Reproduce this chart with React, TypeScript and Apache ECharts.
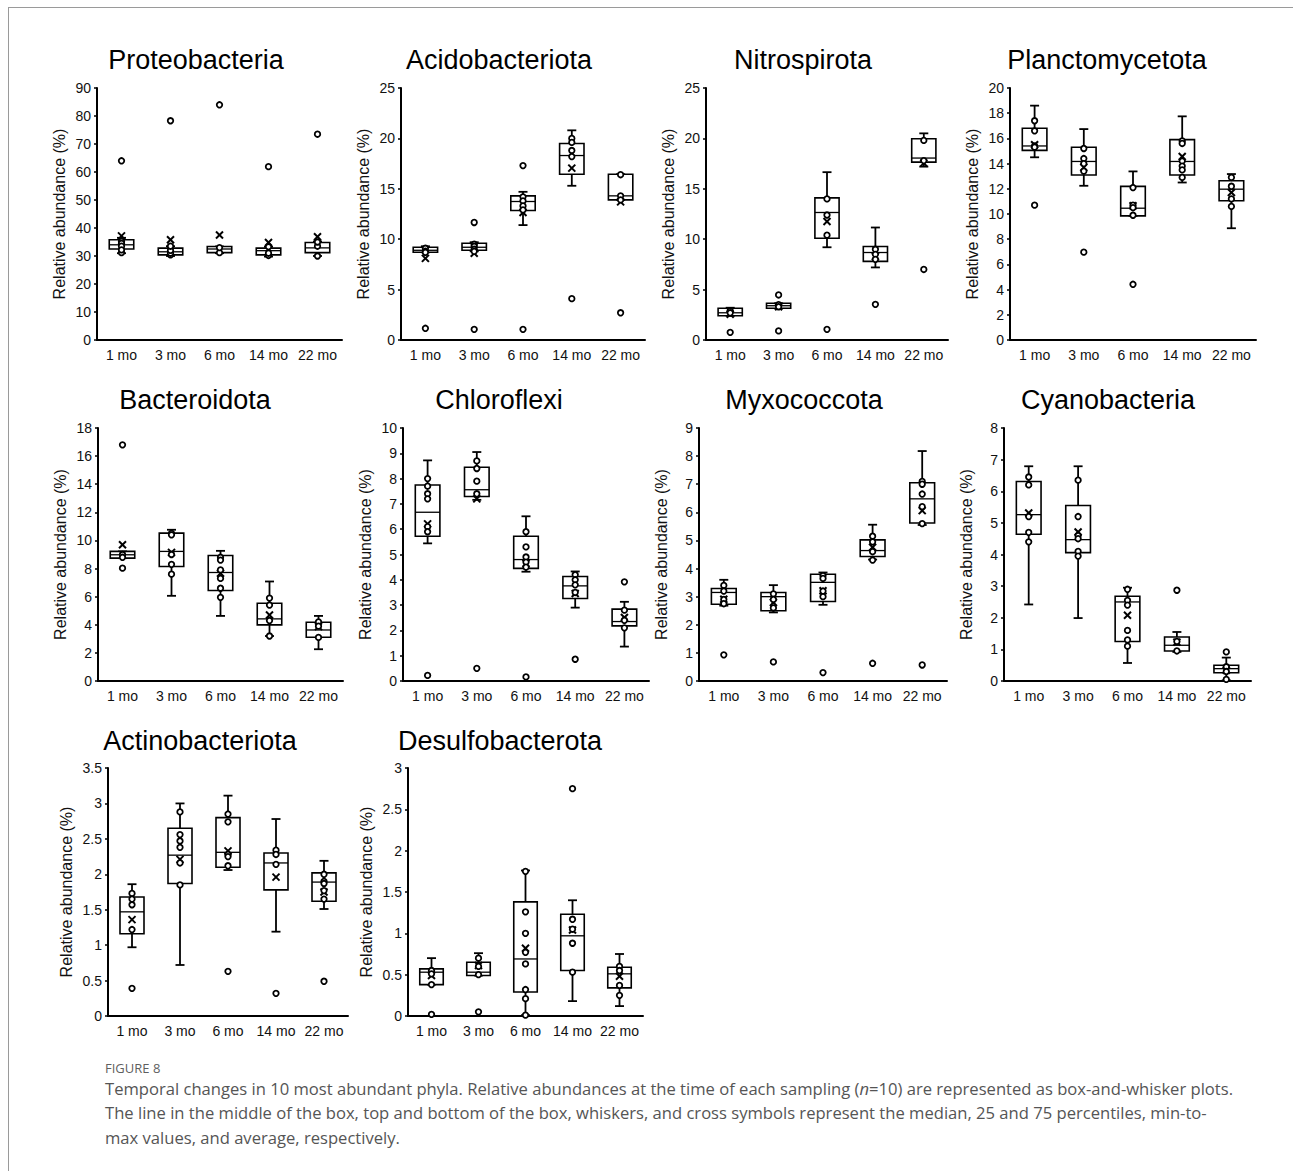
import React, { useEffect, useRef } from "react";
import * as echarts from "echarts";

const categories = ["1 mo", "3 mo", "6 mo", "14 mo", "22 mo"];
const phyla = [
  "Proteobacteria", "Acidobacteriota", "Nitrospirota", "Planctomycetota",
  "Bacteroidota", "Chloroflexi", "Myxococcota", "Cyanobacteria",
  "Actinobacteriota", "Desulfobacterota",
];
const yMaxes = [90, 25, 25, 20, 18, 10, 9, 8, 3.5, 3];
const ySteps = [10, 5, 5, 2, 2, 1, 1, 1, 0.5, 0.5];

// box stats per group: [min, q1, median, q3, max]
const proteobacteriaBox = [[31, 32.5, 34, 35.8, 36.5], [30, 30.4, 31.5, 32.8, 33.5], [31, 31.2, 32.5, 33.4, 33.4], [29.8, 30.4, 31.9, 32.8, 33.3], [30, 31.2, 32.9, 34.8, 35.2]];
const proteobacteriaMean = [37.2, 35.8, 37.5, 34.8, 36.9];
const proteobacteriaPoints = [[64, 35.2, 34.5, 33.5, 31.2, 32.2], [78.3, 30.4, 31, 32, 33.5], [84, 31.2, 33], [61.9, 30.2, 31, 33.3], [73.5, 30, 33.5, 35]];

const acidobacteriotaBox = [[8.7, 8.7, 8.9, 9.2, 9.3], [8.8, 8.9, 9.2, 9.6, 9.7], [11.4, 12.85, 13.74, 14.3, 14.7], [15.3, 16.45, 18.3, 19.5, 20.8], [13.9, 13.9, 14.3, 16.45, 16.45]];
const acidobacteriotaMean = [8.1, 8.6, 12.65, 17.05, 13.7];
const acidobacteriotaPoints = [[1.16, 9.1, 8.8, 8.7], [11.66, 1.06, 9.5, 9.3, 9.0, 8.8], [17.3, 1.06, 14.2, 13.8, 13.3, 12.9], [4.1, 20.0, 19.6, 18.8, 18.2], [2.7, 16.4, 14.3, 13.9]];

const nitrospirotaBox = [[2.4, 2.4, 2.7, 3.15, 3.2], [3.15, 3.15, 3.4, 3.64, 3.64], [9.2, 10.1, 12.65, 14.1, 16.65], [7.2, 7.8, 8.68, 9.27, 11.16], [17.2, 17.65, 18.05, 19.97, 20.5]];
const nitrospirotaMean = [2.55, 3.3, 11.75, 8.3, 17.55];
const nitrospirotaPoints = [[0.76, 2.9, 2.7], [4.47, 0.9, 3.5, 3.3], [1.06, 14, 12.4, 10.4], [3.54, 9.0, 8.5, 8.0], [7.0, 19.8, 17.8]];

const planctomycetotaBox = [[14.5, 15.05, 15.4, 16.8, 18.6], [12.24, 13.1, 14.17, 15.3, 16.74], [9.85, 9.85, 10.46, 12.19, 13.38], [12.5, 13.1, 14.17, 15.9, 17.75], [8.87, 11.05, 11.97, 12.64, 13.17]];
const planctomycetotaMean = [15.5, 13.7, 10.65, 14.57, 11.7];
const planctomycetotaPoints = [[10.7, 17.4, 16.6, 15.4, 15.3], [6.97, 15.2, 14.4, 14.0, 13.4], [4.42, 12.1, 10.7, 10.5, 9.9], [15.8, 15.6, 14.2, 13.8, 13.5, 12.9], [12.9, 12.2, 11.2, 10.6]];

const bacteroidotaBox = [[8.74, 8.74, 8.98, 9.22, 9.22], [6.06, 8.15, 9.22, 10.52, 10.76], [4.63, 6.44, 7.72, 8.93, 9.26], [3.2, 3.99, 4.42, 5.53, 7.08], [2.26, 3.11, 3.63, 4.18, 4.63]];
const bacteroidotaMean = [9.69, 9.15, 7.67, 4.7, 3.87];
const bacteroidotaPoints = [[16.8, 8.03, 9.0, 8.8], [10.5, 10.4, 9.0, 8.3, 7.6], [8.8, 8.6, 7.9, 7.3, 6.6, 5.95], [5.9, 5.4, 4.3, 3.2], [4.2, 3.9, 3.1]];

const chloroflexiBox = [[5.44, 5.72, 6.67, 7.75, 8.72], [7.16, 7.29, 7.56, 8.45, 9.05], [4.32, 4.45, 4.8, 5.72, 6.51], [2.9, 3.26, 3.76, 4.13, 4.33], [1.36, 2.18, 2.35, 2.84, 3.13]];
const chloroflexiMean = [6.21, 7.2, 4.65, 3.46, 2.51];
const chloroflexiPoints = [[0.22, 8.0, 7.7, 7.4, 7.2, 6.1, 5.9], [0.5, 8.7, 8.4, 7.9, 7.4], [0.16, 5.9, 5.3, 4.9, 4.7, 4.5], [0.86, 4.2, 4.0, 3.8, 3.5], [3.92, 2.8, 2.4, 2.1]];

const myxococcotaBox = [[2.68, 2.73, 3.15, 3.29, 3.6], [2.44, 2.5, 3.0, 3.15, 3.41], [2.71, 2.83, 3.51, 3.8, 3.86], [4.32, 4.43, 4.64, 5.02, 5.56], [5.55, 5.62, 6.48, 7.05, 8.18]];
const myxococcotaMean = [2.91, 2.79, 3.21, 4.76, 6.06];
const myxococcotaPoints = [[0.93, 3.4, 3.2, 2.9, 2.75], [0.68, 3.1, 2.9, 2.6], [0.3, 3.75, 3.65, 3.2, 3.0], [0.63, 5.15, 4.95, 4.6, 4.3], [0.57, 7.1, 7.0, 6.65, 6.2, 5.6]];

const cyanobacteriaBox = [[2.42, 4.64, 5.26, 6.31, 6.79], [1.99, 4.06, 4.47, 5.55, 6.79], [0.57, 1.25, 2.5, 2.68, 2.95], [0.92, 0.95, 1.13, 1.39, 1.55], [0.02, 0.26, 0.39, 0.5, 0.74]];
const cyanobacteriaMean = [5.31, 4.71, 2.08, 1.23, 0.34];
const cyanobacteriaPoints = [[6.45, 6.2, 5.2, 4.7, 4.4], [6.35, 5.2, 4.6, 4.5, 4.1, 3.95], [2.9, 2.55, 2.4, 1.6, 1.3, 1.1], [2.87, 1.25, 0.95], [0.92, 0.45, 0.3, 0.05]];

const actinobacteriotaBox = [[0.97, 1.16, 1.47, 1.68, 1.86], [0.72, 1.87, 2.27, 2.65, 3.0], [2.06, 2.1, 2.31, 2.8, 3.11], [1.19, 1.78, 2.16, 2.3, 2.78], [1.51, 1.62, 1.89, 2.02, 2.19]];
const actinobacteriotaMean = [1.36, 2.21, 2.33, 1.96, 1.75];
const actinobacteriotaPoints = [[0.39, 1.73, 1.65, 1.57, 1.22], [2.88, 2.56, 2.47, 2.38, 2.16, 1.85], [0.63, 2.85, 2.74, 2.28, 2.25, 2.12], [0.32, 2.34, 2.28, 2.14], [0.49, 2.0, 1.9, 1.87, 1.77, 1.65]];

const desulfobacterotaBox = [[0.38, 0.38, 0.53, 0.57, 0.7], [0.49, 0.49, 0.53, 0.65, 0.76], [0.01, 0.29, 0.69, 1.38, 1.76], [0.18, 0.55, 0.97, 1.23, 1.4], [0.12, 0.34, 0.51, 0.59, 0.75]];
const desulfobacterotaMean = [0.49, 0.61, 0.82, 1.04, 0.48];
const desulfobacterotaPoints = [[0.02, 0.55, 0.51, 0.38], [0.05, 0.7, 0.6, 0.5], [1.75, 1.26, 1.0, 0.77, 0.63, 0.32, 0.21, 0.01], [2.75, 1.17, 1.05, 0.88, 0.53], [0.6, 0.55, 0.37, 0.25]];

const boxes = [proteobacteriaBox, acidobacteriotaBox, nitrospirotaBox, planctomycetotaBox, bacteroidotaBox, chloroflexiBox, myxococcotaBox, cyanobacteriaBox, actinobacteriotaBox, desulfobacterotaBox];
const means = [proteobacteriaMean, acidobacteriotaMean, nitrospirotaMean, planctomycetotaMean, bacteroidotaMean, chloroflexiMean, myxococcotaMean, cyanobacteriaMean, actinobacteriotaMean, desulfobacterotaMean];
const points = [proteobacteriaPoints, acidobacteriotaPoints, nitrospirotaPoints, planctomycetotaPoints, bacteroidotaPoints, chloroflexiPoints, myxococcotaPoints, cyanobacteriaPoints, actinobacteriotaPoints, desulfobacterotaPoints];

const yAxisName = "Relative abundance (%)";
const figureLabel = "FIGURE 8";
const captionLines = [
  "Temporal changes in 10 most abundant phyla. Relative abundances at the time of each sampling ({i|n}=10) are represented as box-and-whisker plots.",
  "The line in the middle of the box, top and bottom of the box, whiskers, and cross symbols represent the median, 25 and 75 percentiles, min-to-",
  "max values, and average, respectively.",
];

// layout: [axisLeft, axisRight, top, bottom, titleCenterX, titleY]
const layout = [
  [97, 342, 88, 340, 196, 60],
  [401, 645, 88, 340, 499, 60],
  [706, 948, 88, 340, 803, 60],
  [1010, 1256, 88, 340, 1107, 60],
  [98, 343, 428, 681, 195, 400],
  [403, 649, 428, 681, 499, 400],
  [699, 947, 428, 681, 804, 400],
  [1004, 1251, 428, 681, 1108, 400],
  [108, 348, 768, 1016, 200, 741],
  [408, 643, 768, 1016, 500, 741],
];

const FONT = "'Liberation Sans', Arial, sans-serif";
const CAPFONT = "'Open Sans', sans-serif";

function renderBox(params: any, api: any) {
  const x = api.value(0);
  const mn = api.value(1), q1 = api.value(2), md = api.value(3), q3 = api.value(4), mx = api.value(5), mean = api.value(6);
  const pMin = api.coord([x, mn]);
  const pQ1 = api.coord([x, q1]);
  const pMd = api.coord([x, md]);
  const pQ3 = api.coord([x, q3]);
  const pMax = api.coord([x, mx]);
  const pMean = api.coord([x, mean]);
  const cx = pMd[0];
  const bw = api.size([1, 0])[0] * 0.5;
  const cap = 4.5;
  const m = 3.5;
  const st = { stroke: "#000", lineWidth: 1.8, fill: null };
  return {
    type: "group",
    children: [
      { type: "line", shape: { x1: cx, y1: pMax[1], x2: cx, y2: pQ3[1] }, style: st },
      { type: "line", shape: { x1: cx, y1: pQ1[1], x2: cx, y2: pMin[1] }, style: st },
      { type: "line", shape: { x1: cx - cap, y1: pMax[1], x2: cx + cap, y2: pMax[1] }, style: st },
      { type: "line", shape: { x1: cx - cap, y1: pMin[1], x2: cx + cap, y2: pMin[1] }, style: st },
      { type: "rect", shape: { x: cx - bw / 2, y: pQ3[1], width: bw, height: Math.max(pQ1[1] - pQ3[1], 1) }, style: { fill: "#fff", stroke: "#000", lineWidth: 1.6 } },
      { type: "line", shape: { x1: cx - bw / 2, y1: pMd[1], x2: cx + bw / 2, y2: pMd[1] }, style: { stroke: "#000", lineWidth: 1.3 } },
      { type: "line", shape: { x1: cx - m, y1: pMean[1] - m, x2: cx + m, y2: pMean[1] + m }, style: { stroke: "#000", lineWidth: 2 }, z2: 10 },
      { type: "line", shape: { x1: cx + m, y1: pMean[1] - m, x2: cx - m, y2: pMean[1] + m }, style: { stroke: "#000", lineWidth: 2 }, z2: 10 },
    ],
  };
}

function buildOption() {
  const grid: any[] = [];
  const xAxis: any[] = [];
  const yAxis: any[] = [];
  const series: any[] = [];
  const graphic: any[] = [];

  phyla.forEach((name, i) => {
    const [l, r, t, b, tx, ty] = layout[i];
    grid.push({ left: l, top: t, width: r - l, height: b - t });
    xAxis.push({
      type: "category",
      gridIndex: i,
      data: categories,
      axisLine: { lineStyle: { color: "#000", width: 2 } },
      axisTick: { show: false },
      axisLabel: { color: "#111", fontSize: 14, fontFamily: FONT, margin: 8, interval: 0 },
    });
    yAxis.push({
      type: "value",
      gridIndex: i,
      min: 0,
      max: yMaxes[i],
      interval: ySteps[i],
      name: yAxisName,
      nameLocation: "middle",
      nameGap: i >= 8 ? 34 : 30,
      nameTextStyle: { color: "#111", fontSize: 16, fontFamily: FONT },
      axisLine: { show: true, lineStyle: { color: "#000", width: 2 } },
      axisTick: { show: true, length: 3, lineStyle: { color: "#000", width: 1.5 } },
      axisLabel: { color: "#111", fontSize: 14, fontFamily: FONT, margin: 6 },
      splitLine: { show: false },
    });
    series.push({
      type: "custom",
      xAxisIndex: i,
      yAxisIndex: i,
      renderItem: renderBox,
      encode: { x: 0, y: [1, 2, 3, 4, 5, 6] },
      data: boxes[i].map((s, k) => [k, s[0], s[1], s[2], s[3], s[4], means[i][k]]),
      z: 2,
    });
    const pts: number[][] = [];
    points[i].forEach((arr, k) => arr.forEach((v) => pts.push([k, v])));
    series.push({
      type: "scatter",
      xAxisIndex: i,
      yAxisIndex: i,
      data: pts,
      symbol: "circle",
      symbolSize: 5.5,
      itemStyle: { color: "#fff", borderColor: "#000", borderWidth: 1.8, opacity: 1 },
      z: 3,
    });
    graphic.push({
      type: "text",
      x: tx,
      y: ty,
      style: { text: name, fill: "#000", font: `27px ${FONT}`, align: "center", verticalAlign: "middle" },
    });
  });

  graphic.push({ type: "line", shape: { x1: 8, y1: 7.5, x2: 1293, y2: 7.5 }, style: { stroke: "#9a9a9a", lineWidth: 1 } });
  graphic.push({ type: "line", shape: { x1: 8.5, y1: 7, x2: 8.5, y2: 1171 }, style: { stroke: "#9a9a9a", lineWidth: 1 } });
  graphic.push({
    type: "text",
    x: 105,
    y: 1068,
    style: { text: figureLabel, fill: "#5f5f5f", font: `13px ${CAPFONT}`, verticalAlign: "middle" },
  });
  captionLines.forEach((line, k) => {
    graphic.push({
      type: "text",
      x: 105,
      y: 1088 + k * 24.5,
      style: {
        text: line,
        fill: "#555",
        font: `16.6px ${CAPFONT}`,
        verticalAlign: "middle",
        rich: { i: { fontStyle: "italic", fontSize: 16.6, fontFamily: CAPFONT, fill: "#555" } },
      },
    });
  });

  return {
    animation: false,
    backgroundColor: "#fff",
    grid,
    xAxis,
    yAxis,
    series,
    graphic,
  };
}

export default function App() {
  const ref = useRef<HTMLDivElement>(null);
  useEffect(() => {
    if (!ref.current) return;
    const chart = echarts.init(ref.current, undefined, { renderer: "svg" });
    chart.setOption(buildOption() as any);
    return () => chart.dispose();
  }, []);
  return (
    <div
      ref={ref}
      style={{ position: "absolute", left: 0, top: 0, width: 1293, height: 1171, background: "#fff" }}
    />
  );
}
